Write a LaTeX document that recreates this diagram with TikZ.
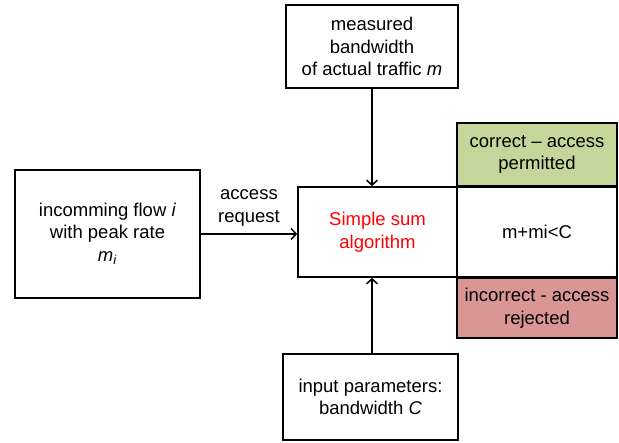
\documentclass[tikz,border=0pt]{standalone}
\usepackage{fontspec}
\setmainfont{Liberation Sans}
\usepackage{xcolor}
\usetikzlibrary{arrows.meta}
\definecolor{okgreen}{RGB}{196,215,155}
\definecolor{badred}{RGB}{218,150,148}
\tikzset{
	box/.style={draw, line width=1.8pt, align=center, inner sep=0pt},
	flow/.style={->, line width=1.5pt}
}

\begin{document}
\begin{tikzpicture}[x=1pt, y=1pt, >={Straight Barb[length=5pt,width=11pt,line width=1.5pt]},
	font=\fontsize{18.5}{22.5}\selectfont]
			% frame
			\useasboundingbox (0,0) rectangle (619,443);
			% input boxes
			\node[box, minimum width=172, minimum height=83] (meas) at (372,396.5)
				{measured\\bandwidth\\of actual traffic \textit{m}};
			\node[box, minimum width=185, minimum height=128] (flow) at (107.5,209)
				{incomming flow \textit{i}\\with peak rate\\\textit{m}\textsubscript{\textit{i}}};
			\node[box, minimum width=175, minimum height=86] (param) at (370.5,46)
				{input parameters:\\bandwidth \textit{C}};
			% algorithm
			\node[box, minimum width=159, minimum height=90, text=red] (algo) at (377.5,211)
				{Simple sum\\algorithm};
			% condition and results
			\node[box, minimum width=160, minimum height=89] (cond) at (537,211) {m+mi<C};
			\node[box, fill=okgreen, minimum width=160, minimum height=63, anchor=south] (ok)
				at (cond.north) {correct -- access\\permitted};
			\node[box, fill=badred, minimum width=160, minimum height=60, anchor=north] (bad)
				at (cond.south) {incorrect - access\\rejected};
			% arrows
			\draw[flow] (meas.south) -- (meas.south |- algo.north);
			\draw[flow] (param.north -| meas.south) -- (meas.south |- algo.south);
			\draw[flow] (flow.east) -- (flow.east -| algo.west)
				node[midway, above=4pt, align=center] {access\\request};
		\end{tikzpicture}
\end{document}
